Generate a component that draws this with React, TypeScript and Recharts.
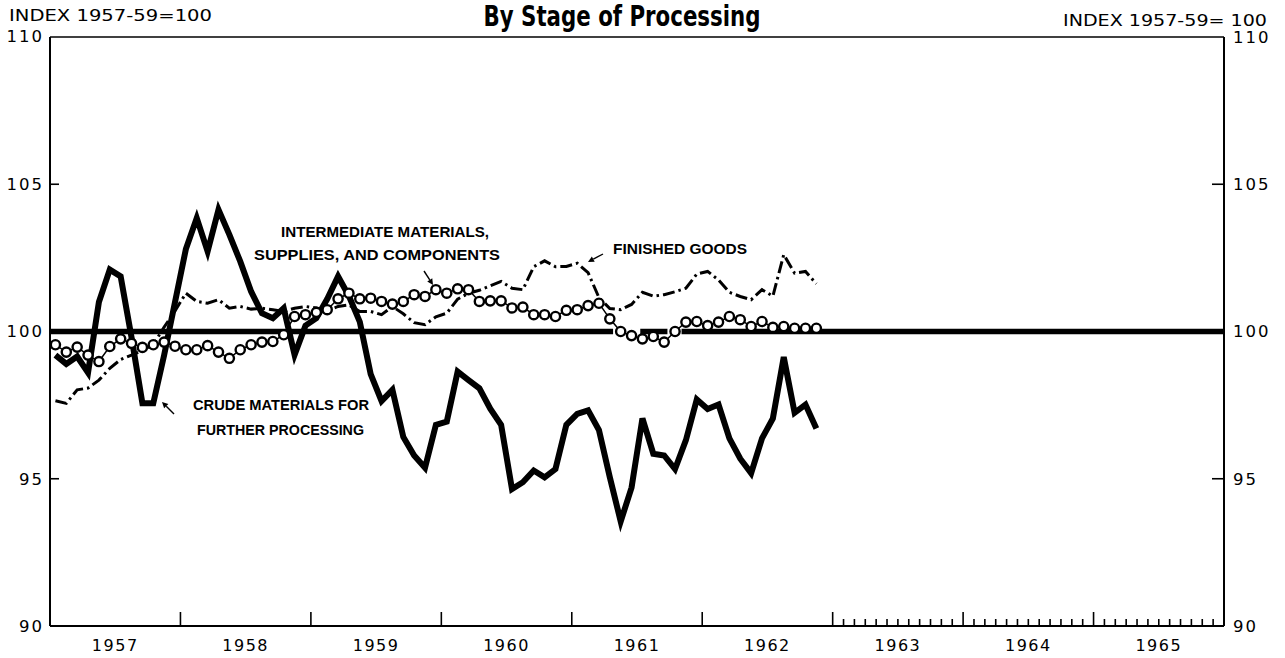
import React from 'react';
import { LineChart, Line, XAxis, YAxis, ReferenceLine } from 'recharts';

const W = 1285;
const H = 658;

// ---------- data ----------
const YEARS = ['1957', '1958', '1959', '1960', '1961', '1962', '1963', '1964', '1965'];
const Y_TICKS = [90, 95, 100, 105, 110];

// Monthly index values, Jan 1957 – Nov 1962 (1957-59 = 100)
const crude = [
  99.2, 98.9, 99.15, 98.6, 101.0, 102.1, 101.87, 99.8, 97.56, 97.56,
  99.2, 101.0, 102.8, 103.85, 102.72, 104.14, 103.29, 102.38, 101.36, 100.62,
  100.45, 100.79, 99.21, 100.2, 100.45, 101.1, 101.87, 101.2, 100.33, 98.55,
  97.64, 98.02, 96.42, 95.79, 95.37, 96.83, 96.94, 98.64, 98.35, 98.07,
  97.38, 96.83, 94.65, 94.88, 95.28, 95.05, 95.33, 96.83, 97.2, 97.32,
  96.65, 95.05, 93.55, 94.7, 97.05, 95.85, 95.79, 95.33, 96.31, 97.69,
  97.37, 97.52, 96.37, 95.68, 95.19, 96.37, 97.05, 99.13, 97.24, 97.52,
  96.71,
];

const intermediate = [
  99.55, 99.3, 99.47, 99.2, 98.98, 99.49, 99.75, 99.6, 99.46, 99.55,
  99.64, 99.5, 99.38, 99.38, 99.52, 99.3, 99.09, 99.38, 99.55, 99.64,
  99.66, 99.89, 100.51, 100.57, 100.65, 100.74, 101.11, 101.3, 101.11, 101.13,
  101.02, 100.93, 101.02, 101.25, 101.19, 101.42, 101.3, 101.45, 101.42, 101.02,
  101.04, 101.04, 100.8, 100.83, 100.57, 100.57, 100.51, 100.72, 100.74, 100.88,
  100.96, 100.43, 100.0, 99.86, 99.75, 99.83, 99.64, 100.0, 100.32, 100.34,
  100.2, 100.32, 100.51, 100.4, 100.17, 100.34, 100.14, 100.17, 100.11, 100.11,
  100.11,
];

const finished = [
  97.65, 97.56, 98.02, 98.08, 98.35, 98.75, 99.05, 99.2, 99.35, 99.55,
  100.15, 100.7, 101.3, 101.02, 100.96, 101.08, 100.79, 100.85, 100.76, 100.79,
  100.74, 100.68, 100.79, 100.85, 100.8, 100.7, 100.85, 100.9, 100.68, 100.68,
  100.57, 100.85, 100.6, 100.3, 100.23, 100.5, 100.62, 101.1, 101.3, 101.4,
  101.55, 101.7, 101.47, 101.42, 102.2, 102.4, 102.2, 102.21, 102.32, 102.0,
  101.15, 100.78, 100.74, 100.92, 101.33, 101.2, 101.25, 101.35, 101.47, 101.95,
  102.04, 101.75, 101.33, 101.19, 101.08, 101.42, 101.2, 102.61, 101.98, 102.04,
  101.62,
];

// breaks (in months from Jan 1957) in the heavy 100 rule
const RULE_BREAKS: [number, number][] = [[51.8, 54.3], [56.8, 58.1]];

const TOTAL_MONTHS = YEARS.length * 12;

const data = crude.map((c, i) => ({
  month: i + 0.5,
  crude: c,
  intermediate: intermediate[i],
  finished: finished[i],
}));

const xTicks: number[] = [];
for (let m = 1; m < TOTAL_MONTHS; m++) {
  if (m % 6 === 0 || m > 72) xTicks.push(m);
}

const ruleSegments: [number, number][] = [];
{
  let start = 0;
  RULE_BREAKS.forEach(([a, b]) => {
    ruleSegments.push([start, a]);
    start = b;
  });
  ruleSegments.push([start, TOTAL_MONTHS]);
}

const NUM_FONT = 'DejaVu Sans, sans-serif';
const LABEL_FONT = 'Liberation Sans, Arial, sans-serif';

function XTick(props: any) {
  const { x, y, payload } = props;
  const m = payload.value as number;
  const isYearStart = m % 12 === 0;
  const isMid = m % 12 === 6;
  const len = isYearStart ? 14 : m > 72 ? 7 : 0;
  return (
    <g>
      {len > 0 && <line x1={x} x2={x} y1={y} y2={y - len} stroke="#000" strokeWidth={1.6} />}
      {isMid && (
        <text x={x} y={y + 25} textAnchor="middle" fontFamily={NUM_FONT} fontSize={16} letterSpacing={1.5} fill="#000">
          {YEARS[(m - 6) / 12]}
        </text>
      )}
    </g>
  );
}

function LeftTick(props: any) {
  const { x, y, payload } = props;
  const v = payload.value as number;
  const inner = v !== 90 && v !== 110;
  return (
    <g>
      {inner && <line x1={x} x2={x + 9} y1={y} y2={y} stroke="#000" strokeWidth={1.6} />}
      <text x={x - 6} y={v === 110 ? y - 1 : y} dy="0.36em" textAnchor="end" fontFamily={NUM_FONT} fontSize={16.5} letterSpacing={2} fill="#000">
        {v}
      </text>
    </g>
  );
}

function RightTick(props: any) {
  const { x, y, payload } = props;
  const v = payload.value as number;
  const inner = v !== 90 && v !== 110;
  return (
    <g>
      {inner && <line x1={x} x2={x - 12} y1={y} y2={y} stroke="#000" strokeWidth={1.6} />}
      <text x={x + 9} y={y} dy="0.36em" textAnchor="start" fontFamily={NUM_FONT} fontSize={16.5} letterSpacing={2} fill="#000">
        {v}
      </text>
    </g>
  );
}

function Arrow({ x1, y1, x2, y2 }: { x1: number; y1: number; x2: number; y2: number }) {
  const dx = x2 - x1;
  const dy = y2 - y1;
  const L = Math.hypot(dx, dy);
  const ux = dx / L;
  const uy = dy / L;
  const hl = 6;
  const hw = 3;
  const bx = x2 - ux * hl;
  const by = y2 - uy * hl;
  return (
    <g>
      <line x1={x1} y1={y1} x2={bx} y2={by} stroke="#000" strokeWidth={1.4} />
      <polygon
        points={`${x2},${y2} ${bx - uy * hw},${by + ux * hw} ${bx + uy * hw},${by - ux * hw}`}
        fill="#000"
      />
    </g>
  );
}

export default function App() {
  return (
    <div style={{ position: 'absolute', left: 0, top: 0, width: W, height: H, background: '#fff' }}>
      <LineChart width={W} height={H} data={data} margin={{ top: 37, right: 0, bottom: 0, left: 0 }}>
        <XAxis
          dataKey="month"
          type="number"
          domain={[0, TOTAL_MONTHS]}
          allowDataOverflow
          ticks={xTicks}
          interval={0}
          height={32}
          tickSize={0}
          tickMargin={0}
          tickLine={false}
          axisLine={{ stroke: '#000', strokeWidth: 2 }}
          tick={XTick}
        />
        <YAxis
          yAxisId="left"
          orientation="left"
          type="number"
          domain={[90, 110]}
          allowDataOverflow
          ticks={Y_TICKS}
          interval={0}
          width={50}
          tickSize={0}
          tickMargin={0}
          tickLine={false}
          axisLine={{ stroke: '#000', strokeWidth: 2 }}
          tick={LeftTick}
        />
        <YAxis
          yAxisId="right"
          orientation="right"
          type="number"
          domain={[90, 110]}
          allowDataOverflow
          ticks={Y_TICKS}
          interval={0}
          width={61}
          tickSize={0}
          tickMargin={0}
          tickLine={false}
          axisLine={{ stroke: '#000', strokeWidth: 2 }}
          tick={RightTick}
        />
        <ReferenceLine yAxisId="left" y={110} stroke="#000" strokeWidth={1.5} />
        {ruleSegments.map(([a, b], k) => (
          <ReferenceLine
            key={k}
            yAxisId="left"
            segment={[{ x: a, y: 100 }, { x: b, y: 100 }]}
            stroke="#000"
            strokeWidth={5.5}
          />
        ))}
        <Line
          yAxisId="left"
          type="linear"
          dataKey="finished"
          stroke="#000"
          strokeWidth={3}
          strokeDasharray="12 4 2.5 4"
          dot={false}
          isAnimationActive={false}
        />
        <Line
          yAxisId="left"
          type="linear"
          dataKey="intermediate"
          stroke="#000"
          strokeWidth={1.5}
          dot={{ r: 4.6, stroke: '#000', strokeWidth: 2.4, fill: '#fff' }}
          isAnimationActive={false}
        />
        <Line
          yAxisId="left"
          type="linear"
          dataKey="crude"
          stroke="#000"
          strokeWidth={6}
          strokeLinejoin="miter"
          dot={false}
          isAnimationActive={false}
        />
      </LineChart>
      <svg
        width={W}
        height={H}
        style={{ position: 'absolute', left: 0, top: 0, pointerEvents: 'none' }}
      >
        <text
          x={622}
          y={26}
          textAnchor="middle"
          fontFamily="DejaVu Sans Condensed, DejaVu Sans, sans-serif"
          fontWeight="bold"
          fontSize={28}
          textLength={277}
          lengthAdjust="spacingAndGlyphs"
          fill="#000"
        >
          By Stage of Processing
        </text>
        <text x={9} y={21} fontFamily={NUM_FONT} fontSize={15.5} textLength={203} lengthAdjust="spacingAndGlyphs" fill="#000">
          INDEX 1957-59=100
        </text>
        <text x={1063} y={26} fontFamily={NUM_FONT} fontSize={15.5} textLength={204} lengthAdjust="spacingAndGlyphs" fill="#000">
          INDEX 1957-59= 100
        </text>

        <text x={281} y={237} fontFamily={LABEL_FONT} fontWeight="bold" fontSize={15} textLength={208} lengthAdjust="spacingAndGlyphs" fill="#000">
          INTERMEDIATE MATERIALS,
        </text>
        <text x={254} y={260} fontFamily={LABEL_FONT} fontWeight="bold" fontSize={15} textLength={246} lengthAdjust="spacingAndGlyphs" fill="#000">
          SUPPLIES, AND COMPONENTS
        </text>
        <Arrow x1={424} y1={271} x2={433} y2={285} />

        <text x={613} y={254} fontFamily={LABEL_FONT} fontWeight="bold" fontSize={15} textLength={134} lengthAdjust="spacingAndGlyphs" fill="#000">
          FINISHED GOODS
        </text>
        <Arrow x1={603} y1={254} x2={588} y2={262} />

        <text x={193} y={410} fontFamily={LABEL_FONT} fontWeight="bold" fontSize={15.5} textLength={176} lengthAdjust="spacingAndGlyphs" fill="#000">
          CRUDE MATERIALS FOR
        </text>
        <text x={197} y={435} fontFamily={LABEL_FONT} fontWeight="bold" fontSize={15.5} textLength={167} lengthAdjust="spacingAndGlyphs" fill="#000">
          FURTHER PROCESSING
        </text>
        <Arrow x1={174} y1={414} x2={162} y2={402} />
      </svg>
    </div>
  );
}
